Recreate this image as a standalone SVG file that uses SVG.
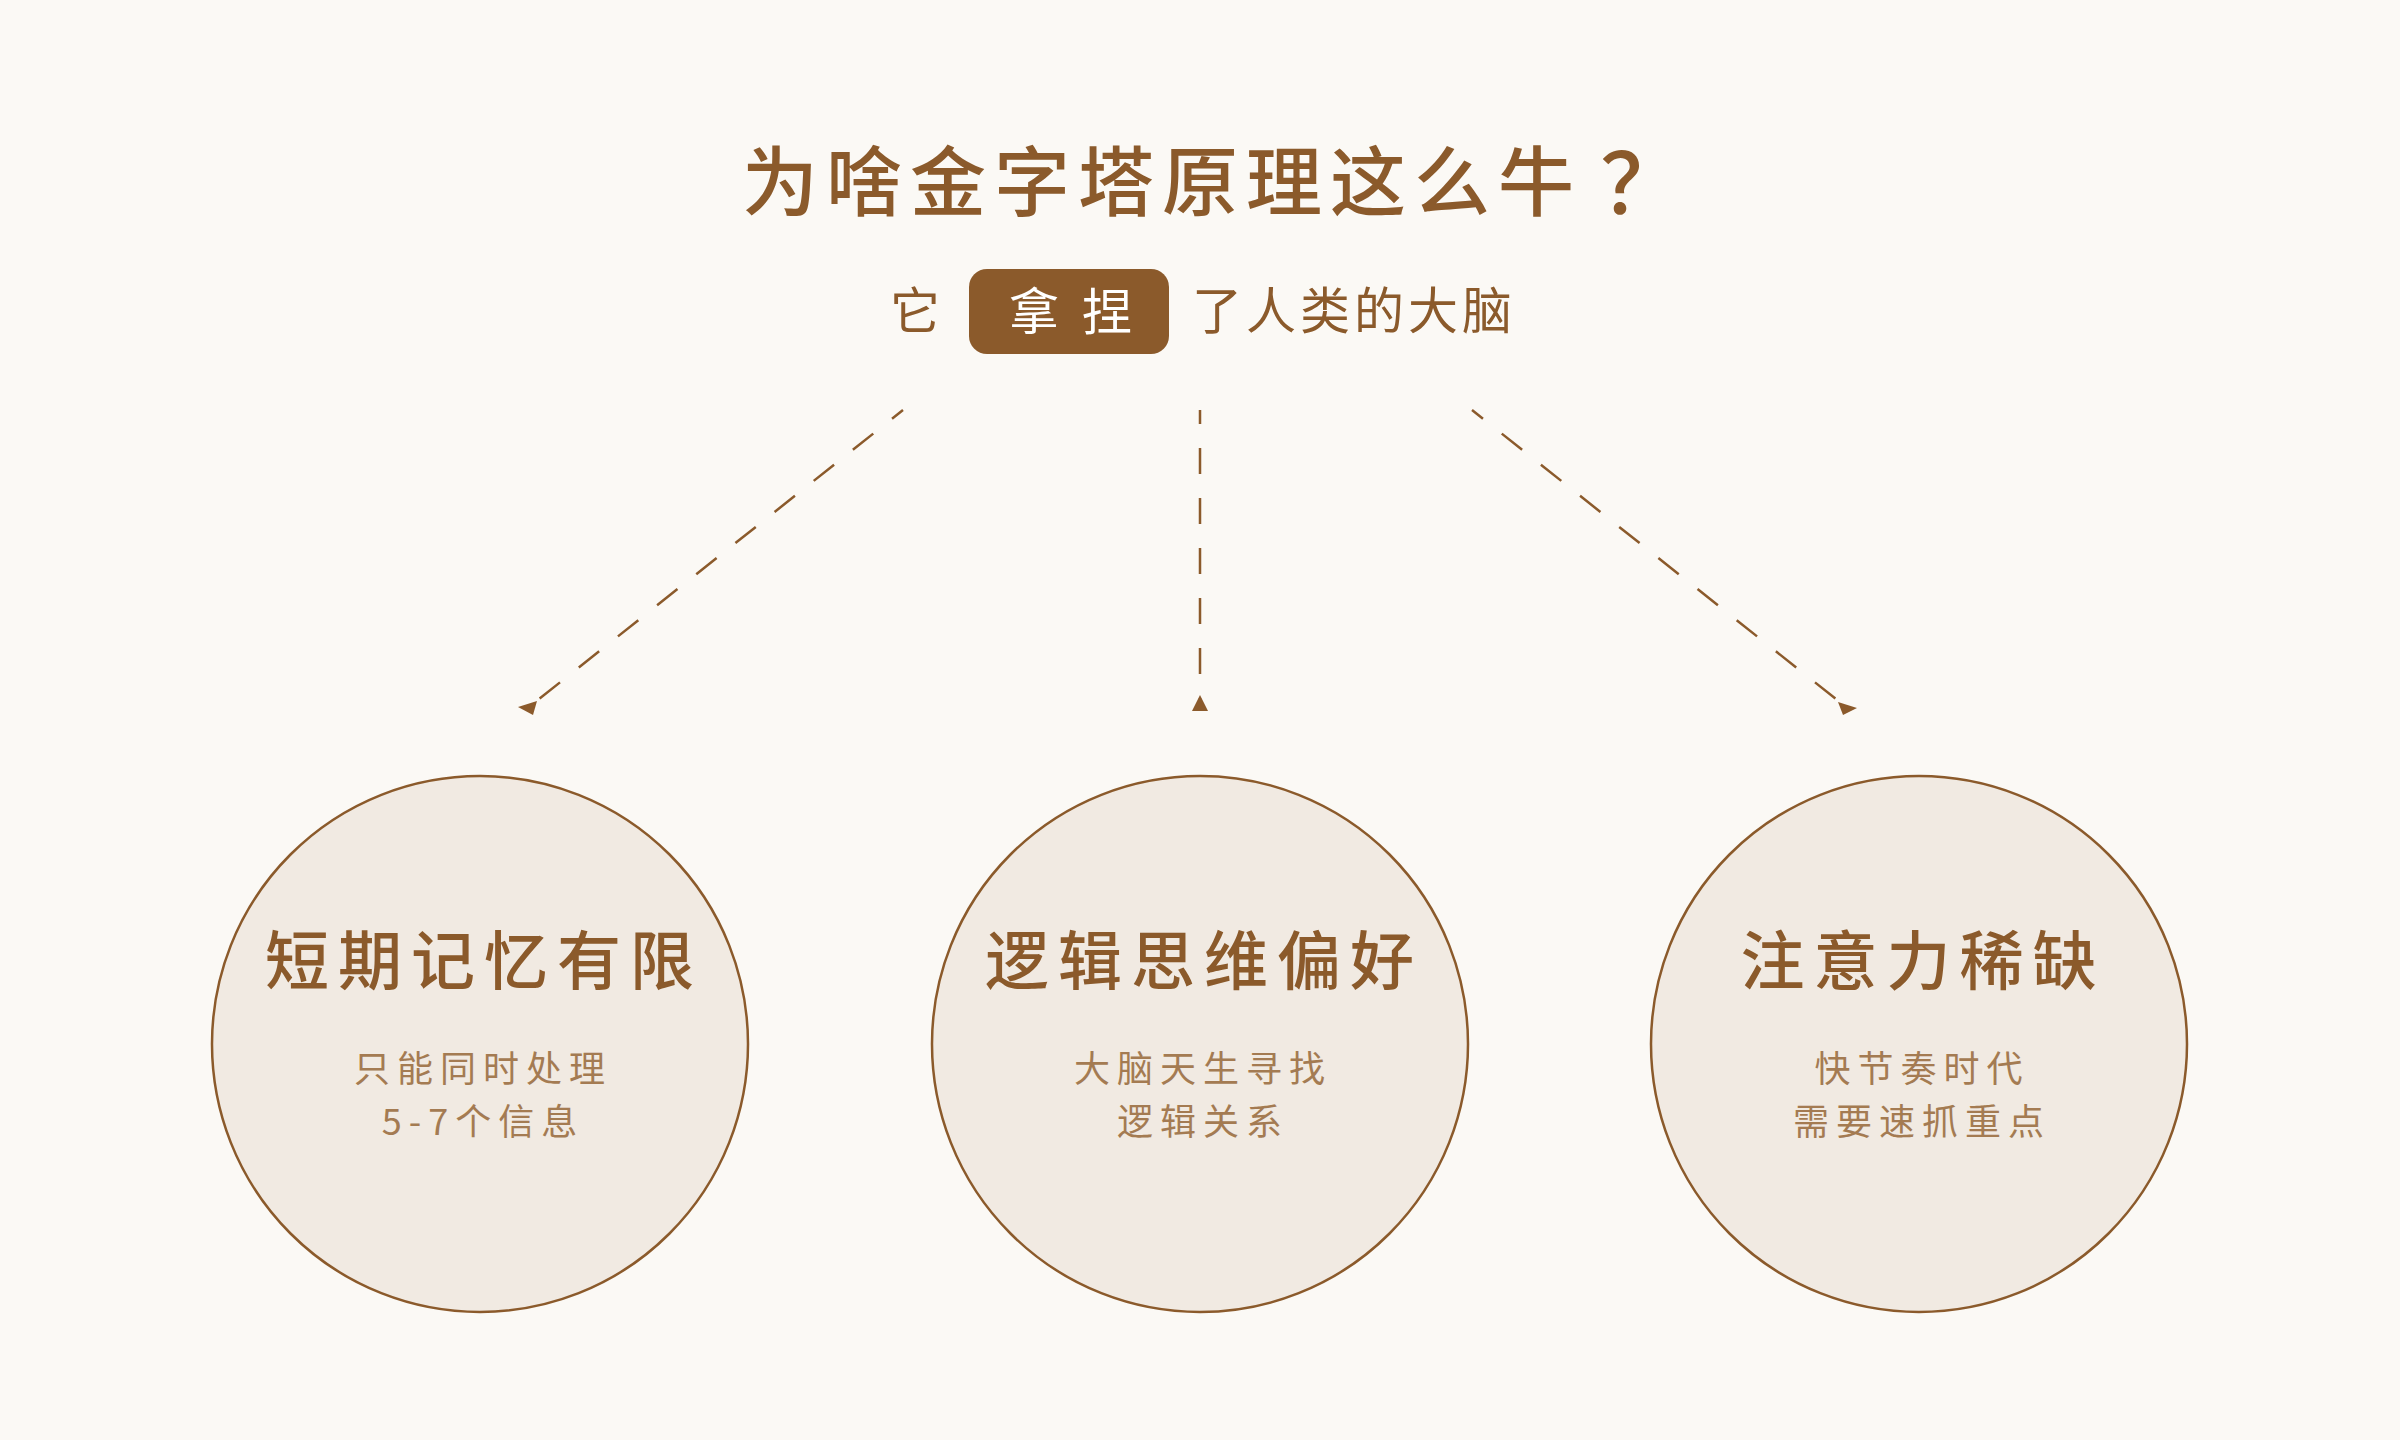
<svg xmlns="http://www.w3.org/2000/svg" width="2400" height="1440" viewBox="0 0 2400 1440">
<style>
text{font-family:"Noto Sans CJK SC","Noto Sans CJK TC",sans-serif;dominant-baseline:central;}
.title{font-size:76px;fill:#8B5A2B;letter-spacing:8px;font-weight:500;}
.sub{font-size:50px;fill:#8B5A2B;letter-spacing:4px;}
.tag{font-size:50px;fill:#FFFFFF;text-anchor:middle;}
.node circle{fill:#F1EAE2;stroke:#8B5A2B;stroke-width:2.5;}
.ntitle{font-size:64px;fill:#8B5A2B;text-anchor:middle;letter-spacing:9px;font-weight:500;}
.ndesc{font-size:36px;fill:#A47B52;text-anchor:middle;letter-spacing:7px;}
.conn line{stroke:#8B5A2B;stroke-width:2.5;stroke-dasharray:26 24;stroke-dashoffset:12;fill:none;}
.conn polygon{fill:#8B5A2B;}
</style>
<rect x="0" y="0" width="2400" height="1440" fill="#FBF9F5"/>
<g id="header">
<text class="title" x="742" y="177">为啥金字塔原理这么牛<tspan dx="18" font-size="84">？</tspan></text>
<text class="sub" x="890" y="307">它</text>
<rect x="969" y="269" width="200" height="85" rx="18" ry="18" fill="#8B5A2B"/>
<text class="tag" y="308"><tspan x="1034">拿</tspan><tspan x="1107">捏</tspan></text>
<text class="sub" x="1192" y="307">了人类的大脑</text>
</g>
<g id="connectors" class="conn">
<line x1="903" y1="410" x2="529" y2="707"/>
<polygon points="518,707 537,701 533,715"/>
<line x1="1200" y1="410" x2="1200" y2="702"/>
<polygon points="1200,695 1192,711 1208,711"/>
<line x1="1472" y1="410" x2="1846" y2="707"/>
<polygon points="1857,708 1838,702 1843,715"/>
</g>
<g id="node-memory" class="node">
<circle cx="480" cy="1044" r="268"/>
<text class="ntitle" x="484" y="956">短期记忆有限</text>
<text class="ndesc" x="483" y="1066">只能同时处理</text>
<text class="ndesc" x="483" y="1119">5-7个信息</text>
</g>
<g id="node-logic" class="node">
<circle cx="1200" cy="1044" r="268"/>
<text class="ntitle" x="1204" y="956">逻辑思维偏好</text>
<text class="ndesc" x="1203" y="1066">大脑天生寻找</text>
<text class="ndesc" x="1203" y="1119">逻辑关系</text>
</g>
<g id="node-attention" class="node">
<circle cx="1919" cy="1044" r="268"/>
<text class="ntitle" x="1923" y="956">注意力稀缺</text>
<text class="ndesc" x="1922" y="1066">快节奏时代</text>
<text class="ndesc" x="1922" y="1119">需要速抓重点</text>
</g>
</svg>
